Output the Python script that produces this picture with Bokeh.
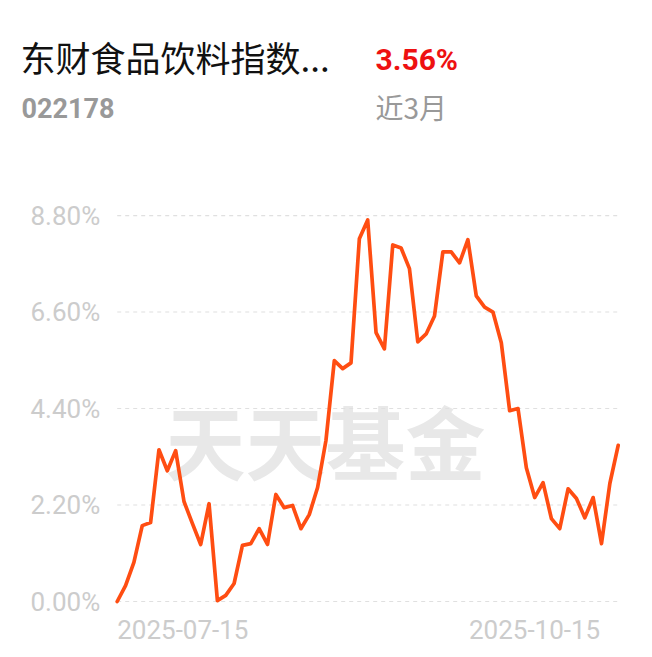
from bokeh.plotting import figure
from bokeh.models import Range1d, Label
from bokeh.core.properties import value
from bokeh.embed import file_html
from bokeh.resources import INLINE

# ---- data ----
title_text = "东财食品饮料指数..."
fund_code = "022178"
change_text = "3.56%"
period_text = "近3月"
watermark = "天天基金"
date_labels = ["2025-07-15", "2025-10-15"]
y_ticks = [0.0, 2.2, 4.4, 6.6, 8.8]
y_tick_labels = ["0.00%", "2.20%", "4.40%", "6.60%", "8.80%"]
returns = [
    0.00, 0.36, 0.89, 1.73, 1.80, 3.46, 2.98, 3.44, 2.28, 1.78,
    1.30, 2.23, 0.02, 0.14, 0.41, 1.28, 1.32, 1.66, 1.30, 2.44,
    2.14, 2.19, 1.66, 1.98, 2.60, 3.67, 5.49, 5.31, 5.44, 8.27,
    8.70, 6.13, 5.76, 8.13, 8.06, 7.59, 5.92, 6.10, 6.51, 7.97,
    7.97, 7.72, 8.25, 6.97, 6.71, 6.60, 5.90, 4.35, 4.40, 3.05,
    2.37, 2.71, 1.89, 1.66, 2.57, 2.35, 1.91, 2.37, 1.32, 2.69,
    3.56,
]
idx = list(range(len(returns)))
n_last = idx[-1]

W, H = 636, 650
px_x = 8.35
px_y = 43.86
x0_frame = 116.7      # pixel of first point from left edge
y0_frame = 49.0       # pixel of zero line from bottom edge

p = figure(width=W, height=H, output_backend="svg", toolbar_location=None,
           min_border=0, outline_line_color=None,
           x_range=Range1d(-x0_frame / px_x, (W - x0_frame) / px_x),
           y_range=Range1d(-y0_frame / px_y, (H - y0_frame) / px_y))
p.axis.visible = False
p.grid.visible = False
p.background_fill_color = "white"
p.border_fill_color = "white"

# watermark
p.add_layout(Label(x=325, y=212, x_units="screen", y_units="screen", text=watermark,
                   text_align="center", text_baseline="middle",
                   text_font="Noto Sans CJK SC", text_font_style="bold",
                   text_font_size="80px", text_color="#e8e8e8", level="underlay"))

# dashed gridlines
p.segment(x0=[0] * len(y_ticks), x1=[n_last] * len(y_ticks), y0=y_ticks, y1=y_ticks,
          line_color="#e0e0e0", line_width=1.2, line_dash="4 4")

# y labels
p.text(x=[0] * len(y_ticks), y=y_ticks, text=y_tick_labels, x_offset=-17,
       text_align="right", text_baseline="middle", text_font=value("Roboto"),
       text_font_size="26px", text_color="#cccccc")

# date labels
p.text(x=[0], y=[0], text=[date_labels[0]], y_offset=28, text_align="left",
       text_baseline="middle", text_font=value("Roboto"), text_font_size="26px",
       text_color="#cccccc")
p.text(x=[n_last], y=[0], text=[date_labels[1]], y_offset=28, x_offset=-18,
       text_align="right", text_baseline="middle", text_font=value("Roboto"),
       text_font_size="26px", text_color="#cccccc")

# line
p.line(idx, returns, line_color="#ff4d12", line_width=3.7, line_join="round", line_cap="round")

# titles
p.add_layout(Label(x=20, y=594, x_units="screen", y_units="screen", text=title_text,
                   text_align="left", text_baseline="middle",
                   text_font="Noto Sans CJK SC", text_font_size="35px", text_color="#111111"))
p.add_layout(Label(x=375, y=591, x_units="screen", y_units="screen", text=change_text,
                   text_align="left", text_baseline="middle",
                   text_font="Roboto", text_font_style="bold",
                   text_font_size="30px", text_color="#ee1111"))
p.add_layout(Label(x=21, y=543, x_units="screen", y_units="screen", text=fund_code,
                   text_align="left", text_baseline="middle",
                   text_font="Roboto", text_font_style="bold",
                   text_font_size="27px", text_color="#999999"))
p.add_layout(Label(x=375, y=544, x_units="screen", y_units="screen", text=period_text,
                   text_align="left", text_baseline="middle",
                   text_font="Noto Sans CJK SC",
                   text_font_size="28px", text_color="#999999"))

open("out.html", "w").write(file_html(p, INLINE))
